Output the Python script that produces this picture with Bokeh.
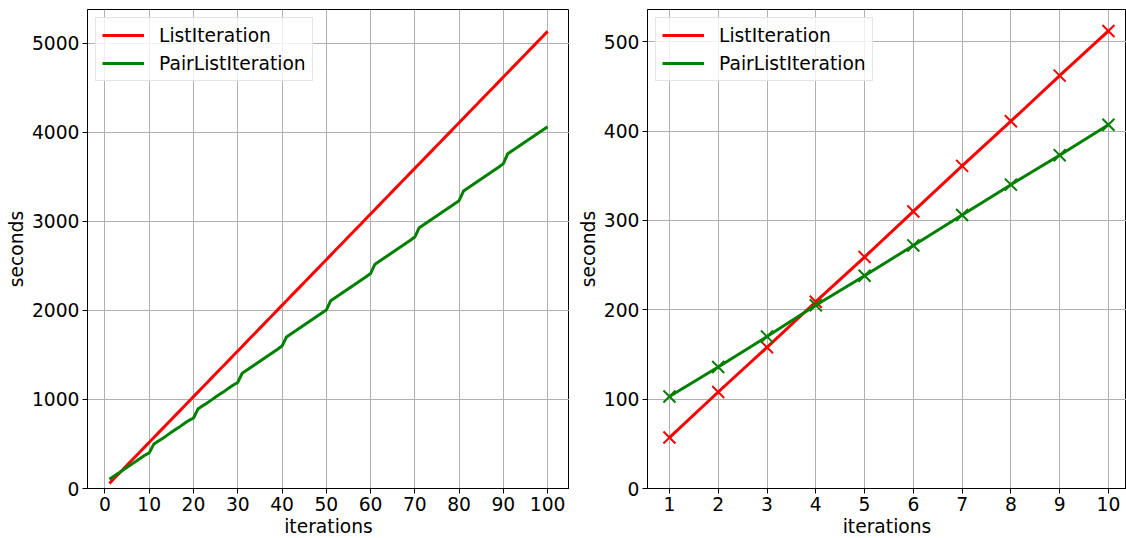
from bokeh.plotting import figure
from bokeh.layouts import row
from bokeh.models import Range1d, FixedTicker
from bokeh.embed import file_html
from bokeh.resources import INLINE

# ---------------- data ----------------
iterations_all = list(range(1, 101))
list_iteration_all = [
    57, 109, 160, 211, 263, 314, 365, 416, 468, 519,
    570, 622, 673, 724, 776, 827, 878, 929, 981, 1032,
    1083, 1135, 1186, 1237, 1289, 1340, 1391, 1442, 1494, 1545,
    1596, 1648, 1699, 1750, 1802, 1853, 1904, 1955, 2007, 2058,
    2109, 2161, 2212, 2263, 2315, 2366, 2417, 2468, 2520, 2571,
    2622, 2674, 2725, 2776, 2828, 2879, 2930, 2981, 3033, 3084,
    3135, 3187, 3238, 3289, 3341, 3392, 3443, 3494, 3546, 3597,
    3648, 3700, 3751, 3802, 3854, 3905, 3956, 4007, 4059, 4110,
    4161, 4213, 4264, 4315, 4367, 4418, 4469, 4520, 4572, 4623,
    4674, 4726, 4777, 4828, 4880, 4931, 4982, 5033, 5085, 5136,
]
pair_list_iteration_all = [
    103, 137, 170, 204, 238, 272, 305, 339, 373, 400,
    496, 530, 563, 597, 631, 665, 698, 732, 766, 792,
    892, 926, 959, 993, 1027, 1061, 1094, 1128, 1162, 1192,
    1295, 1329, 1362, 1396, 1430, 1464, 1497, 1531, 1565, 1600,
    1702, 1736, 1769, 1803, 1837, 1871, 1904, 1938, 1972, 2005,
    2110, 2144, 2177, 2211, 2245, 2279, 2312, 2346, 2380, 2415,
    2520, 2554, 2587, 2621, 2655, 2689, 2722, 2756, 2790, 2825,
    2930, 2964, 2997, 3031, 3065, 3099, 3132, 3166, 3200, 3234,
    3342, 3376, 3409, 3443, 3477, 3511, 3544, 3578, 3612, 3650,
    3762, 3796, 3829, 3863, 3897, 3931, 3964, 3998, 4032, 4063,
]

iterations_10 = list(range(1, 11))
list_iteration_10 = [57, 108, 158, 209, 259, 310, 361, 411, 462, 512]
pair_list_iteration_10 = [103, 136, 170, 205, 238, 272, 306, 340, 373, 407]

x_ticks_left = list(range(0, 101, 10))
y_ticks_left = [0, 1000, 2000, 3000, 4000, 5000]
x_ticks_right = list(range(1, 11))
y_ticks_right = [0, 100, 200, 300, 400, 500]

RED = "#ff0000"
GREEN = "#008000"
FONT = "DejaVu Sans"
FS = "18.7px"


def style(p, xt, yt):
    p.xaxis.ticker = FixedTicker(ticks=xt)
    p.yaxis.ticker = FixedTicker(ticks=yt)
    for ax in (p.xaxis[0], p.yaxis[0]):
        ax.major_label_text_font = FONT
        ax.major_label_text_font_size = FS
        ax.major_label_text_color = "black"
        ax.axis_label_text_font = FONT
        ax.axis_label_text_font_size = FS
        ax.axis_label_text_font_style = "normal"
        ax.axis_label_text_color = "black"
        ax.major_tick_out = 5
        ax.major_tick_in = 0
        ax.minor_tick_out = 0
        ax.minor_tick_in = 0
        ax.axis_line_color = "black"
        ax.major_tick_line_color = "black"
        ax.major_label_standoff = 3
        ax.axis_label_standoff = 2
    p.grid.grid_line_color = "#b0b0b0"
    p.grid.grid_line_width = 1
    p.outline_line_color = "black"
    p.outline_line_alpha = 1
    p.outline_line_width = 1
    p.background_fill_color = "white"
    p.border_fill_color = "white"


def style_legend(p):
    lg = p.legend[0]
    lg.location = "top_left"
    lg.margin = 8
    lg.padding = 6
    lg.spacing = 6
    lg.glyph_width = 42
    lg.glyph_height = 22
    lg.label_height = 22
    lg.label_standoff = 15
    lg.label_text_font = FONT
    lg.label_text_font_size = FS
    lg.label_text_color = "black"
    lg.border_line_color = "#cccccc"
    lg.border_line_width = 1
    lg.background_fill_alpha = 0.8


# ---------------- left panel ----------------
p1 = figure(
    frame_width=482, frame_height=479,
    x_range=Range1d(-3.95, 104.95), y_range=Range1d(0, 5382),
    output_backend="svg", toolbar_location=None,
    min_border_left=87, min_border_right=0, min_border_top=9, min_border_bottom=50,
)
p1.line(iterations_all, list_iteration_all, color=RED, line_width=3, legend_label="ListIteration")
p1.line(iterations_all, pair_list_iteration_all, color=GREEN, line_width=3, legend_label="PairListIteration")
p1.xaxis.axis_label = "iterations"
p1.yaxis.axis_label = "seconds"
style(p1, x_ticks_left, y_ticks_left)
style_legend(p1)

# ---------------- right panel ----------------
p2 = figure(
    frame_width=479, frame_height=479,
    x_range=Range1d(0.55, 10.37), y_range=Range1d(0, 536),
    output_backend="svg", toolbar_location=None,
    min_border_left=78, min_border_right=0, min_border_top=9, min_border_bottom=50,
)
p2.line(iterations_10, list_iteration_10, color=RED, line_width=3, legend_label="ListIteration")
p2.scatter(iterations_10, list_iteration_10, marker="x", size=17, line_color=RED, line_width=2)
p2.line(iterations_10, pair_list_iteration_10, color=GREEN, line_width=3, legend_label="PairListIteration")
p2.scatter(iterations_10, pair_list_iteration_10, marker="x", size=17, line_color=GREEN, line_width=2)
p2.xaxis.axis_label = "iterations"
p2.yaxis.axis_label = "seconds"
style(p2, x_ticks_right, y_ticks_right)
style_legend(p2)

layout = row(p1, p2)
open("out.html", "w").write(file_html(layout, INLINE))
